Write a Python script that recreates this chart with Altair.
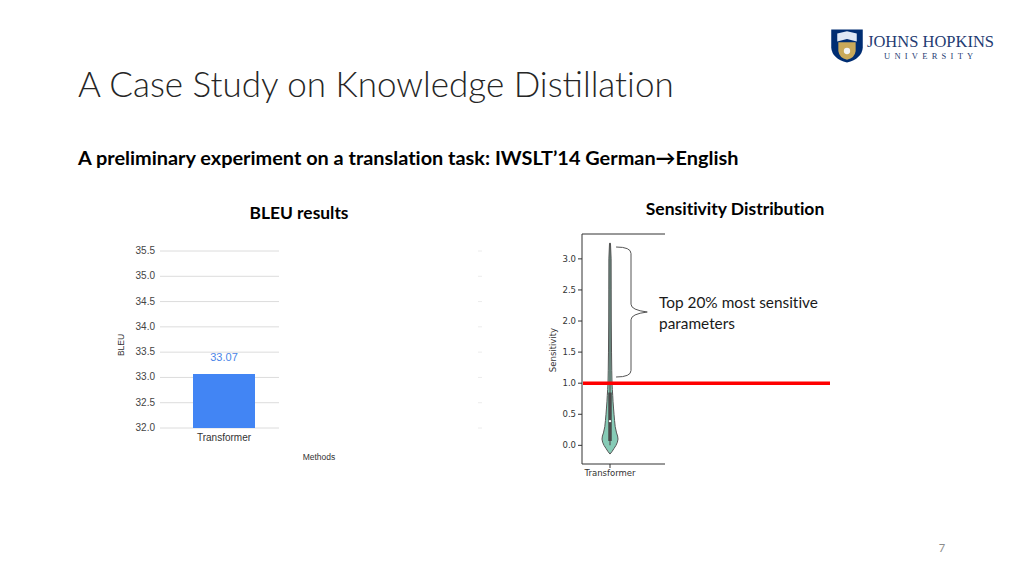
import altair as alt
import pandas as pd

# ---------------- data ----------------
bleu_methods = ["Transformer"]
bleu_scores = [33.07]
bleu_ticks = [32.0, 32.5, 33.0, 33.5, 34.0, 34.5, 35.0, 35.5]

violin_method = ["Transformer"]
violin_levels = [-0.14, -0.10, -0.05, 0.00, 0.05, 0.10, 0.15, 0.20, 0.30, 0.40,
                 0.50, 0.60, 0.70, 0.80, 0.90, 1.00, 1.20, 1.50, 2.00, 2.50, 3.00, 3.25]
violin_density = [0.0, 0.25, 0.5, 0.75, 0.92, 1.0, 0.95, 0.82, 0.65, 0.57,
                  0.5, 0.44, 0.38, 0.34, 0.29, 0.25, 0.22, 0.19, 0.16, 0.15, 0.14, 0.06]
violin_quartiles = [0.07, 0.39, 0.85]   # q1, median, q3
violin_whiskers = [0.0, 3.25]
sens_ticks = [0.0, 0.5, 1.0, 1.5, 2.0, 2.5, 3.0]
threshold = [1.0]

# --------------- helpers ---------------
def X(px):
    return px - 8

def Y(py):
    return py - 8

SLIDE_FONT = "Lato"
SHEET_FONT = "Liberation Sans"
MPL_FONT = "DejaVu Sans"
ZW = "\u200c"  # keeps Lato from forming its "ti" ligature


def label(text, x, y, size, color="#222222", font=SLIDE_FONT, weight="normal",
          align="left", angle=0, baseline="middle"):
    return alt.Chart(pd.DataFrame({"t": [text]})).mark_text(
        align=align, baseline=baseline, font=font, fontSize=size,
        fontWeight=weight, color=color, angle=angle
    ).encode(x=alt.value(X(x)), y=alt.value(Y(y)), text="t:N")


def symbol(path, x, y, size, color, filled=True, stroke_width=1):
    mk = dict(shape=path, size=size, opacity=1)
    if filled:
        mk.update(filled=True, color=color, strokeWidth=0)
    else:
        mk.update(filled=False, color=color, strokeWidth=stroke_width)
    return alt.Chart(pd.DataFrame({"t": [0]})).mark_point(**mk).encode(
        x=alt.value(X(x)), y=alt.value(Y(y)))


layers = []

# --------------- slide text ---------------
layers.append(label("A Case Study on Knowledge Distilla" + "t" + ZW + "ion", 78, 86, 35,
                    color="#262626", weight=300))
layers.append(label("A preliminary experiment on a translat" + ZW +
                    "ion task: IWSLT\u201914 German\u2192English",
                    78, 159, 19.9, color="#000000", weight="bold"))
layers.append(label("BLEU results", 299, 214, 17.4, color="#000000", weight="bold", align="center"))
layers.append(label("Sensit" + ZW + "ivit" + ZW + "y Distribut" + ZW + "ion", 735, 210, 17.5,
                    color="#000000", weight="bold", align="center"))
layers.append(label("7", 942, 549, 11, color="#8c8c8c", align="center"))

# --------------- BLEU bar chart ---------------
bleu_y = alt.Scale(domain=[32.0, 35.5], range=[Y(428), Y(251)], nice=False, zero=False)
bleu_x = alt.Scale(domain=bleu_methods, range=[X(193), X(255)], paddingInner=0, paddingOuter=0)

tick_df = pd.DataFrame({"v": bleu_ticks})
layers.append(alt.Chart(tick_df).mark_rule(color="#dcdcdc", strokeWidth=1).encode(
    y=alt.Y("v:Q", scale=bleu_y, axis=None),
    x=alt.value(X(160)), x2=alt.value(X(279))))
layers.append(alt.Chart(tick_df).mark_rule(color="#ececec", strokeWidth=1).encode(
    y=alt.Y("v:Q", scale=bleu_y, axis=None),
    x=alt.value(X(478)), x2=alt.value(X(482))))
layers.append(alt.Chart(tick_df).mark_text(align="right", baseline="middle", font=SHEET_FONT,
                                           fontSize=10, color="#444444").encode(
    y=alt.Y("v:Q", scale=bleu_y, axis=None),
    x=alt.value(X(155)), text=alt.Text("v:Q", format=".1f")))

bar_df = pd.DataFrame({"method": bleu_methods, "score": bleu_scores})
layers.append(alt.Chart(bar_df).mark_bar(color="#4285f4").encode(
    x=alt.X("method:N", scale=bleu_x, axis=None),
    y=alt.Y("score:Q", scale=bleu_y, axis=None),
    y2=alt.datum(32.0)))
layers.append(alt.Chart(bar_df).mark_text(font=SHEET_FONT, fontSize=11, color="#4a86e8",
                                          baseline="middle", dy=-16).encode(
    x=alt.X("method:N", scale=bleu_x, axis=None),
    y=alt.Y("score:Q", scale=bleu_y, axis=None),
    text=alt.Text("score:Q", format=".2f")))
layers.append(alt.Chart(bar_df).mark_text(font=SHEET_FONT, fontSize=10, color="#333333",
                                          baseline="middle").encode(
    x=alt.X("method:N", scale=bleu_x, axis=None),
    y=alt.value(Y(438)), text="method:N"))
layers.append(label("Methods", 319, 457, 8.5, color="#333333", font=SHEET_FONT, align="center"))
layers.append(label("BLEU", 121, 345, 8.5, color="#333333", font=SHEET_FONT, align="center",
                    angle=270))

# --------------- sensitivity violin ---------------
sens_y = alt.Scale(domain=[-0.30, 3.40], range=[Y(464), Y(234)], nice=False, zero=False)
vio_x = alt.Scale(domain=[-1, 1], range=[X(602), X(618)], nice=False, zero=False)

vio_df = pd.DataFrame({"level": violin_levels, "dens": violin_density})
layers.append(alt.Chart(vio_df).transform_calculate(neg="-datum.dens").mark_area(
    orient="horizontal", color="#86cbb6", stroke="#555555", strokeWidth=1, opacity=1).encode(
    y=alt.Y("level:Q", scale=sens_y, axis=None),
    x=alt.X("neg:Q", scale=vio_x, axis=None),
    x2="dens:Q"))

wh_df = pd.DataFrame({"lo": [violin_whiskers[0]], "hi": [violin_whiskers[1]]})
layers.append(alt.Chart(wh_df).mark_rule(color="#555555", strokeWidth=1.2).encode(
    y=alt.Y("lo:Q", scale=sens_y, axis=None), y2="hi:Q", x=alt.value(X(610))))
box_df = pd.DataFrame({"q1": [violin_quartiles[0]], "q3": [violin_quartiles[2]]})
layers.append(alt.Chart(box_df).mark_rule(color="#4a4a4a", strokeWidth=3.5).encode(
    y=alt.Y("q1:Q", scale=sens_y, axis=None), y2="q3:Q", x=alt.value(X(610))))
med_df = pd.DataFrame({"m": [violin_quartiles[1]]})
layers.append(alt.Chart(med_df).mark_point(filled=True, color="white", size=6, opacity=1).encode(
    y=alt.Y("m:Q", scale=sens_y, axis=None), x=alt.value(X(610))))

# spines
spine = dict(color="#333333", strokeWidth=1)
layers.append(alt.Chart(pd.DataFrame({"t": [0]})).mark_rule(**spine).encode(
    x=alt.value(X(582)), y=alt.value(Y(234)), y2=alt.value(Y(464))))
layers.append(alt.Chart(pd.DataFrame({"t": [0]})).mark_rule(**spine).encode(
    x=alt.value(X(582)), x2=alt.value(X(665)), y=alt.value(Y(234))))
layers.append(alt.Chart(pd.DataFrame({"t": [0]})).mark_rule(**spine).encode(
    x=alt.value(X(582)), x2=alt.value(X(665)), y=alt.value(Y(464))))
layers.append(alt.Chart(pd.DataFrame({"t": [0]})).mark_rule(**spine).encode(
    x=alt.value(X(610)), y=alt.value(Y(464)), y2=alt.value(Y(468))))

stick_df = pd.DataFrame({"v": sens_ticks})
layers.append(alt.Chart(stick_df).mark_rule(color="#333333", strokeWidth=1).encode(
    y=alt.Y("v:Q", scale=sens_y, axis=None),
    x=alt.value(X(578)), x2=alt.value(X(582))))
layers.append(alt.Chart(stick_df).mark_text(align="right", baseline="middle", font=MPL_FONT,
                                            fontSize=8.5, color="#333333").encode(
    y=alt.Y("v:Q", scale=sens_y, axis=None),
    x=alt.value(X(576)), text=alt.Text("v:Q", format=".1f")))
layers.append(label("Sensitivity", 553, 350, 8.5, color="#333333", font=MPL_FONT,
                    align="center", angle=270))
layers.append(label(violin_method[0], 610, 473, 8.5, color="#333333", font=MPL_FONT,
                    align="center"))

# threshold line
thr_df = pd.DataFrame({"v": threshold})
layers.append(alt.Chart(thr_df).mark_rule(color="#ff0000", strokeWidth=3.5).encode(
    y=alt.Y("v:Q", scale=sens_y, axis=None),
    x=alt.value(X(583)), x2=alt.value(X(830))))

# brace + annotation
brace = ("M -0.23 -1 Q 0 -1 0 -0.9 L 0 -0.12 Q 0 -0.03 0.25 0 "
         "Q 0 0.03 0 0.12 L 0 0.9 Q 0 1 -0.23 1")
layers.append(symbol(brace, 631, 312, 16900, "#555555", filled=False, stroke_width=1))
layers.append(label("Top 20% most sensit" + ZW + "ive", 659, 303, 15.4, color="#1a1a1a"))
layers.append(label("parameters", 659, 324, 15.4, color="#1a1a1a"))

# --------------- logo ---------------
shield = "M -0.95 -1 L 0.95 -1 L 0.95 0.1 Q 0.9 0.75 0 1 Q -0.9 0.75 -0.95 0.1 Z"
layers.append(symbol(shield, 847, 46, 1100, "#002d72"))
book = "M -1 -0.35 L 0 -0.6 L 1 -0.35 L 1 0.45 L 0 0.2 L -1 0.45 Z"
layers.append(symbol(book, 847, 37, 380, "#dfe8f5"))
inner = "M -1 -1 L 1 -1 L 1 0 Q 0.9 0.8 0 1 Q -0.9 0.8 -1 0 Z"
layers.append(symbol(inner, 847, 51, 300, "#c9a95a"))
layers.append(alt.Chart(pd.DataFrame({"t": [0]})).mark_point(
    shape="circle", size=40, filled=True, color="#f4f4f4", opacity=1).encode(
    x=alt.value(X(847)), y=alt.value(Y(51))))
layers.append(label("JOHNS HOPKINS", 867, 42, 16.5, color="#1f3c73", font="Liberation Serif"))
layers.append(label("U\u2002N\u2002I\u2002V\u2002E\u2002R\u2002S\u2002I\u2002T\u2002Y", 884, 56,
                    8.5, color="#1f3c73", font="Liberation Serif"))

chart = alt.layer(*layers).resolve_scale(x="independent", y="independent").properties(
    width=1008, height=560, padding=0,
    autosize=alt.AutoSizeParams(type="none"),
    background="white",
).configure_view(stroke=None)

chart.save("out.html", embed_options={"renderer": "svg", "actions": False})
